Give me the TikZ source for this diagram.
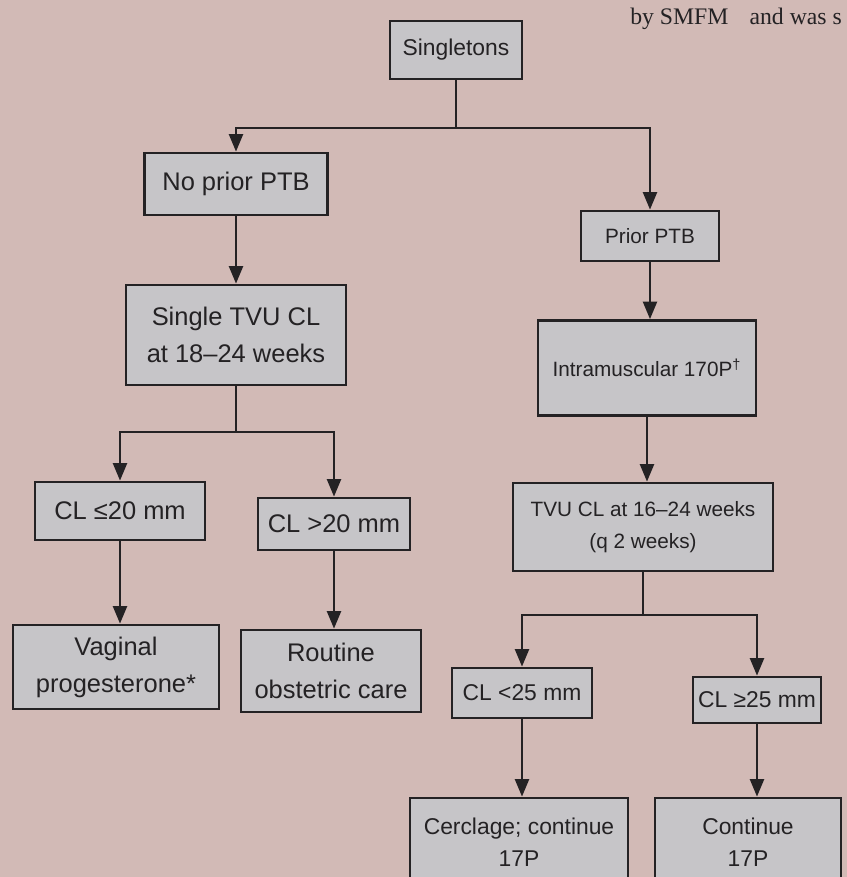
\documentclass[tikz,border=0pt]{standalone}
\usepackage{fontspec}
\setmainfont{Liberation Sans}
\newfontfamily\pageserif{Liberation Serif}
\usetikzlibrary{arrows.meta}
\definecolor{paper}{RGB}{210,186,182}
\definecolor{boxgray}{RGB}{198,197,200}
\definecolor{ink}{RGB}{36,34,36}
\begin{document}
\begin{tikzpicture}[x=0.02cm, y=-0.02cm,
		every node/.style={draw=ink, fill=boxgray, line width=1.6pt, text=ink, align=center, inner sep=1pt},
		txtbig/.style={font=\fontsize{14.5}{21}\selectfont},
		txtmid/.style={font=\fontsize{13}{18.5}\selectfont},
		txtsmall/.style={font=\fontsize{11.8}{18}\selectfont},
		arr/.style={draw=ink, line width=1.3pt, -{Triangle[length=10pt,width=8pt]}},
		lnk/.style={draw=ink, line width=1.3pt}]
		\fill[paper] (0,0) rectangle (847,877);
		\useasboundingbox (0,0) rectangle (847,877);
		\node[draw=none, fill=none, anchor=base east, font=\pageserif\fontsize{13.5}{15}\selectfont] (runhead) at (845,24) [] {by SMFM\hspace{12pt}and was s};
		% left branch
		\node[txtmid, minimum width=2.64cm, minimum height=1.16cm] (sing) at (456,50) [] {Singletons};
		\node[txtbig, minimum width=3.66cm, minimum height=1.24cm] (noprior) at (236,184) [] {No prior PTB};
		\node[txtbig, minimum width=4.4cm, minimum height=2cm] (single) at (236,335) [] {Single TVU CL\\at 18--24 weeks};
		\node[txtbig, minimum width=3.4cm, minimum height=1.16cm] (le20) at (120,511) [] {CL ≤20 mm};
		\node[txtbig, minimum width=3.04cm, minimum height=1.04cm] (gt20) at (334,524) [] {CL >20 mm};
		\node[txtbig, minimum width=4.12cm, minimum height=1.68cm] (vag) at (116,667) [] {Vaginal\\progesterone*};
		\node[txtbig, minimum width=3.6cm, minimum height=1.64cm] (rout) at (331,671) [] {Routine\\obstetric care};
		% right branch
		\node[txtsmall, minimum width=2.76cm, minimum height=1cm] (prior) at (650,236) [] {Prior PTB};
		\node[txtsmall, minimum width=4.36cm, minimum height=1.9cm] (intra) at (647,368) [] {Intramuscular 170P\textsuperscript{†}};
		\node[txtsmall, minimum width=5.2cm, minimum height=1.76cm] (tvu) at (643,527) [] {TVU CL at 16--24 weeks\\(q 2 weeks)};
		\node[txtmid, minimum width=2.8cm, minimum height=1cm] (lt25) at (522,693) [] {CL <25 mm};
		\node[txtmid, minimum width=2.56cm, minimum height=0.92cm] (ge25) at (757,700) [] {CL ≥25 mm};
		\node[txtmid, minimum width=4.36cm, minimum height=1.76cm] (cerc) at (519,842) [] {Cerclage; continue\\17P};
		\node[txtmid, minimum width=3.72cm, minimum height=1.76cm] (cont) at (748,842) [] {Continue\\17P};
		% connectors
		\coordinate (topbar) at (456,128);
		\coordinate (splitL) at (236,432);
		\coordinate (splitR) at (643,615);
		\draw[lnk] (sing) -- (topbar);
		\draw[arr] (topbar) -| (noprior.north);
		\draw[arr] (topbar) -| (prior.north);
		\draw[arr] (noprior) -- (single);
		\draw[arr] (prior.south) -- (prior.south |- intra.north);
		\draw[arr] (intra.south) -- (intra.south |- tvu.north);
		\draw[lnk] (single) -- (splitL);
		\draw[arr] (splitL) -| (le20.north);
		\draw[arr] (splitL) -| (gt20.north);
		\draw[arr] (le20.south) -- (le20.south |- vag.north);
		\draw[arr] (gt20.south) -- (gt20.south |- rout.north);
		\draw[lnk] (tvu) -- (splitR);
		\draw[arr] (splitR) -| (lt25.north);
		\draw[arr] (splitR) -| (ge25.north);
		\draw[arr] (lt25.south) -- (lt25.south |- cerc.north);
		\draw[arr] (ge25.south) -- (ge25.south |- cont.north);
	\end{tikzpicture}
\end{document}
